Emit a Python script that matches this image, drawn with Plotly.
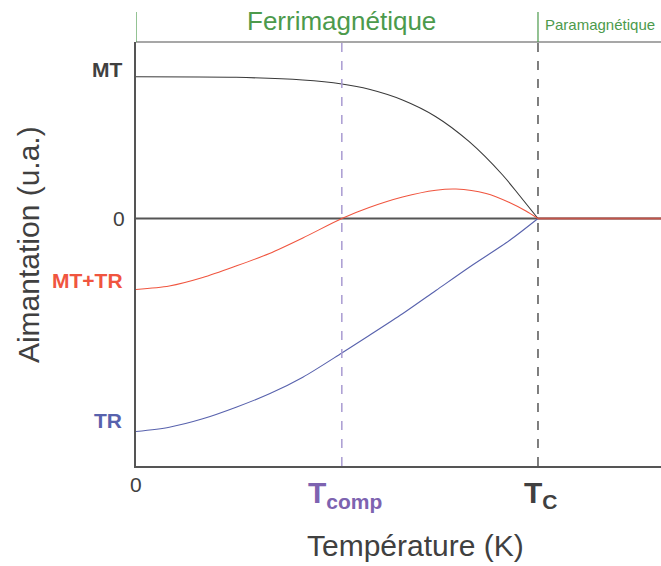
import plotly.graph_objects as go

# Reduced temperature T/Tc and magnetisation (arbitrary units)
T_C = 1.0
T_COMP = 0.512
T_MAX = 1.306

mt_T = [0.0, 0.249, 0.415, 0.512, 0.580, 0.663, 0.746, 0.829, 0.912, 0.953, 1.0]
mt_M = [141.8, 141.2, 138.5, 134.5, 129.2, 118.5, 101.8, 76.8, 43.5, 23.5, 0]

sum_T = [0.0, 0.0828, 0.166, 0.249, 0.332, 0.415, 0.512, 0.580, 0.663, 0.746, 0.796, 0.871, 0.929, 0.970, 1.0, 1.306]
sum_M = [-71, -67.5, -59, -47.5, -35, -19.5, 0, 11, 21.5, 28.3, 29.5, 25, 16, 7.5, 0, 0]

tr_T = [0.0, 0.0828, 0.166, 0.249, 0.332, 0.415, 0.512, 0.580, 0.663, 0.746, 0.829, 0.929, 1.0]
tr_M = [-213, -208.7, -200.3, -188.7, -175.3, -158.7, -134.5, -117, -95.3, -72, -48.7, -22, 0]

Y_MIN, Y_MAX = -247.5, 176.5

C_MT = "#3a3a3a"
C_SUM = "#f0553f"
C_TR = "#5862ad"
C_COMP = "#7d63b0"
C_GREEN = "#4c9a4c"
C_TEXT = "#404040"
FONT = "Liberation Sans, Arial, sans-serif"

fig = go.Figure()

# zero line across the plot
fig.add_shape(type="line", x0=0, x1=T_MAX, y0=0, y1=0, xref="x", yref="y",
              line=dict(color="#555555", width=2), layer="below")

line_kw = dict(width=1.1, shape="spline", smoothing=0.8)
fig.add_trace(go.Scatter(x=mt_T, y=mt_M, mode="lines", line=dict(color=C_MT, **line_kw), hoverinfo="skip"))
fig.add_trace(go.Scatter(x=tr_T, y=tr_M, mode="lines", line=dict(color=C_TR, **line_kw), hoverinfo="skip"))
fig.add_trace(go.Scatter(x=sum_T[:-1], y=sum_M[:-1], mode="lines", line=dict(color=C_SUM, **line_kw), hoverinfo="skip"))
fig.add_trace(go.Scatter(x=sum_T[-2:], y=sum_M[-2:], mode="lines", line=dict(color="#c0544a", width=2),
                         hoverinfo="skip"))

# vertical dashed lines
fig.add_shape(type="line", x0=T_COMP, x1=T_COMP, y0=0, y1=1, xref="x", yref="paper",
              line=dict(color="#a99bd2", width=1.5, dash="dash"))
fig.add_shape(type="line", x0=T_C, x1=T_C, y0=0, y1=1, xref="x", yref="paper",
              line=dict(color="#555555", width=1.5, dash="dash"))
# top border
fig.add_shape(type="line", x0=0, x1=1, y0=1, y1=1, xref="paper", yref="paper",
              line=dict(color="#8a8a8a", width=1.5))
# green region ticks
for xv in [0, T_C]:
    fig.add_shape(type="line", x0=xv, x1=xv, y0=1, y1=1 + 30 / 424, xref="x", yref="paper",
                  line=dict(color=C_GREEN, width=1.2))

ann = []
ann.append(dict(x=T_COMP, y=1, xref="x", yref="paper", yanchor="middle", yshift=21,
                text="Ferrimagnétique", showarrow=False, font=dict(size=26, color=C_GREEN, family=FONT)))
ann.append(dict(x=(T_C + T_MAX) / 2, y=1, xref="x", yref="paper", yanchor="middle", yshift=18,
                text="Paramagnétique", showarrow=False, font=dict(size=15, color=C_GREEN, family=FONT)))
ann.append(dict(x=0, y=mt_M[0], xref="x", yref="y", xanchor="right", xshift=-12, yshift=7,
                text="<b>MT</b>", showarrow=False, font=dict(size=21, color=C_TEXT, family=FONT)))
ann.append(dict(x=0, y=0, xref="x", yref="y", xanchor="right", xshift=-9,
                text="0", showarrow=False, font=dict(size=21, color=C_TEXT, family=FONT)))
ann.append(dict(x=0, y=sum_M[0], xref="x", yref="y", xanchor="right", xshift=-11, yshift=9.5,
                text="<b>MT+TR</b>", showarrow=False, font=dict(size=21, color=C_SUM, family=FONT)))
ann.append(dict(x=0, y=tr_M[0], xref="x", yref="y", xanchor="right", xshift=-12, yshift=11,
                text="<b>TR</b>", showarrow=False, font=dict(size=21, color=C_TR, family=FONT)))
ann.append(dict(x=0, y=0, xref="x", yref="paper", yanchor="middle", yshift=-18,
                text="0", showarrow=False, font=dict(size=21, color=C_TEXT, family=FONT)))
ann.append(dict(x=T_COMP, y=0, xref="x", yref="paper", yanchor="top", yshift=-8, xshift=3,
                text="<b>T<sub>comp</sub></b>", showarrow=False, font=dict(size=30, color=C_COMP, family=FONT)))
ann.append(dict(x=T_C, y=0, xref="x", yref="paper", yanchor="top", yshift=-8, xshift=3,
                text="<b>T<sub>C</sub></b>", showarrow=False, font=dict(size=30, color=C_TEXT, family=FONT)))
ann.append(dict(x=(415 - 136) / 525, y=0, xref="paper", yref="paper", yanchor="middle", yshift=-79,
                text="Température (K)", showarrow=False, font=dict(size=30, color=C_TEXT, family=FONT)))
ann.append(dict(x=0, y=0.521, xref="paper", yref="paper", xanchor="center", xshift=-108, textangle=-90,
                text="Aimantation (u.a.)", showarrow=False, font=dict(size=30, color=C_TEXT, family=FONT)))

fig.update_layout(
    width=661, height=566,
    margin=dict(l=136, r=0, t=42, b=100),
    paper_bgcolor="white", plot_bgcolor="white",
    showlegend=False,
    annotations=ann,
    xaxis=dict(range=[0, T_MAX], showgrid=False, zeroline=False, showticklabels=False, ticks="",
               showline=True, linecolor="#555555", linewidth=1.5, fixedrange=True),
    yaxis=dict(range=[Y_MIN, Y_MAX], showgrid=False, zeroline=False, showticklabels=False, ticks="",
               showline=True, linecolor="#555555", linewidth=1.5, fixedrange=True),
)

# remove the browser's default body margin so the figure fills the window exactly
page_css = ("document.body.style.margin='0';"
            "document.body.style.overflow='hidden';"
            "document.documentElement.style.overflow='hidden';")

fig.write_html("out.html", post_script=page_css, config={"displayModeBar": False})
